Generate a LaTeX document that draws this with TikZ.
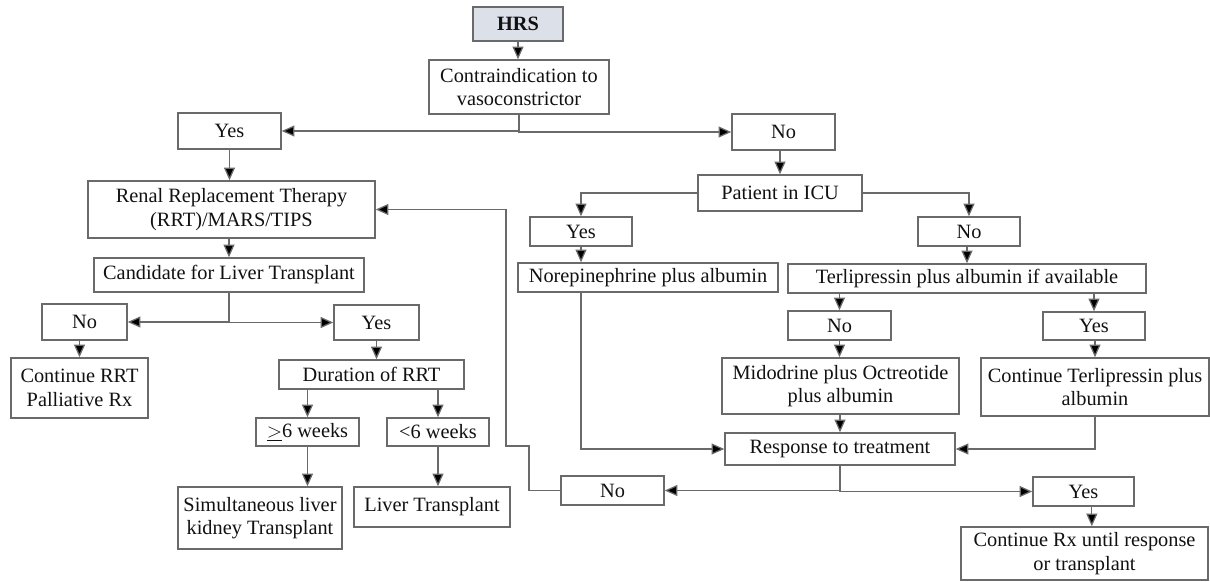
\documentclass[tikz,border=0pt]{standalone}
\usepackage{fontspec}
\setmainfont{Liberation Serif}
\usetikzlibrary{arrows.meta}
\definecolor{hrsfill}{HTML}{DCE0E8}
\definecolor{edge}{HTML}{6A6A6A}
\definecolor{ink}{HTML}{111111}
\tikzset{
  box/.style={draw=edge, line width=0.9pt, inner sep=0pt, align=center,
    text=ink, font=\fontsize{12.2}{14}\selectfont},
  link/.style={draw=edge, line width=0.75pt},
  arr/.style={link, -{Triangle[width=6.6pt,length=7.6pt,fill=black]}},
}
% box from its corners in pixel units: name, x1, y1, x2, y2, text
\newcommand\flowbox[7][]{%
  \node[box,#1,minimum width={(#5-#3)*0.6pt},minimum height={(#6-#4)*0.6pt}]
    (#2) at ({(#3+#5)/2},{(#4+#6)/2}) {#7};}
\begin{document}
\begin{tikzpicture}[x=0.6pt,y=-0.6pt]
\useasboundingbox (0,0) rectangle (1210,582);

% top
\flowbox[fill=hrsfill,font=\fontsize{12.2}{14}\selectfont\bfseries]{hrs}{473}{7}{563}{41}{HRS}
\flowbox{contra}{429}{60}{609}{114}{Contraindication to\\vasoconstrictor}
\flowbox{yesA}{178}{113}{281}{149}{Yes}
\flowbox{noA}{732}{114}{835}{150}{No}

% left branch
\flowbox{rrt}{88}{181}{375}{238}{Renal Replacement Therapy\\(RRT)/MARS/TIPS}
\flowbox{cand}{94}{258}{364}{292}{Candidate for Liver Transplant}
\flowbox{noB}{42}{304}{127}{340}{No}
\flowbox{yesB}{334}{305}{419}{340}{Yes}
\flowbox{crrt}{11}{358}{148}{418}{Continue RRT\\Palliative Rx}
\flowbox{dur}{279}{360}{464}{389}{Duration of RRT}
\flowbox{geSix}{256}{418}{359}{446}{$\underline{>}$6 weeks}
\flowbox{ltSix}{387}{418}{489}{446}{<6 weeks}
\flowbox{slkt}{178}{487}{342}{549}{Simultaneous liver\\kidney Transplant}
\flowbox{lt}{354}{487}{510}{527}{Liver Transplant}

% right branch
\flowbox{icu}{698}{175}{862}{211}{Patient in ICU}
\flowbox{yesC}{530}{217}{632}{246}{Yes}
\flowbox{noC}{918}{217}{1020}{246}{No}
\flowbox{norepi}{518}{263}{778}{292}{Norepinephrine plus albumin}
\flowbox{terli}{788}{264}{1146}{293}{Terlipressin plus albumin if available}
\flowbox{noD}{788}{311}{891}{340}{No}
\flowbox{yesD}{1043}{312}{1145}{340}{Yes}
\flowbox{mido}{722}{358}{959}{414}{Midodrine plus Octreotide\\plus albumin}
\flowbox{cterli}{981}{358}{1209}{416}{Continue Terlipressin plus\\albumin}
\flowbox{resp}{725}{433}{955}{465}{Response to treatment}
\flowbox{noE}{561}{476}{664}{505}{No}
\flowbox{yesE}{1033}{477}{1134}{506}{Yes}
\flowbox{crx}{961}{527}{1208}{580}{Continue Rx until response\\or transplant}

% bends of the loop back to dialysis
\coordinate (loopA) at (529,446);
\coordinate (loopB) at (506,446);

% connectors
\draw[arr] (hrs.south) -- (hrs.south |- contra.north);
\draw[arr] (contra.south) |- (yesA.east);
\draw[arr] (contra.south) |- (noA.west);

\draw[arr] (yesA.south) -- (yesA.south |- rrt.north);
\draw[arr] (cand.north |- rrt.south) -- (cand.north);
\draw[arr] (cand.south) |- (noB.east);
\draw[arr] (cand.south) |- (yesB.west);
\draw[arr] (crrt.north |- noB.south) -- (crrt.north);
\draw[arr] (yesB.south) -- (yesB.south |- dur.north);
\draw[arr] (geSix.north |- dur.south) -- (geSix.north);
\draw[arr] (ltSix.north |- dur.south) -- (ltSix.north);
\draw[arr] (geSix.south) -- (geSix.south |- slkt.north);
\draw[arr] (ltSix.south) -- (ltSix.south |- lt.north);

\draw[arr] (icu.north |- noA.south) -- (icu.north);
\draw[arr] (icu.west) -| (yesC.north);
\draw[arr] (icu.east) -| (noC.north);
\draw[arr] (yesC.south) -- (yesC.south |- norepi.north);
\draw[arr] (terli.north |- noC.south) -- (terli.north);
\draw[arr] (noD.north |- terli.south) -- (noD.north);
\draw[arr] (yesD.north |- terli.south) -- (yesD.north);
\draw[arr] (noD.south) -- (noD.south |- mido.north);
\draw[arr] (cterli.north |- yesD.south) -- (cterli.north);
\draw[arr] (resp.north |- mido.south) -- (resp.north);
\draw[arr] (yesC.south |- norepi.south) |- (resp.west);
\draw[arr] (cterli.south) |- (resp.east);
\draw[arr] (resp.south) |- (noE.east);
\draw[arr] (resp.south) |- (yesE.west);
\draw[arr] ([xshift=5pt]yesE.south) -- ([xshift=5pt]yesE.south |- crx.north);
\draw[arr] (noE.west) -| (loopA) -- (loopB) |- (rrt.east);
\end{tikzpicture}
\end{document}
